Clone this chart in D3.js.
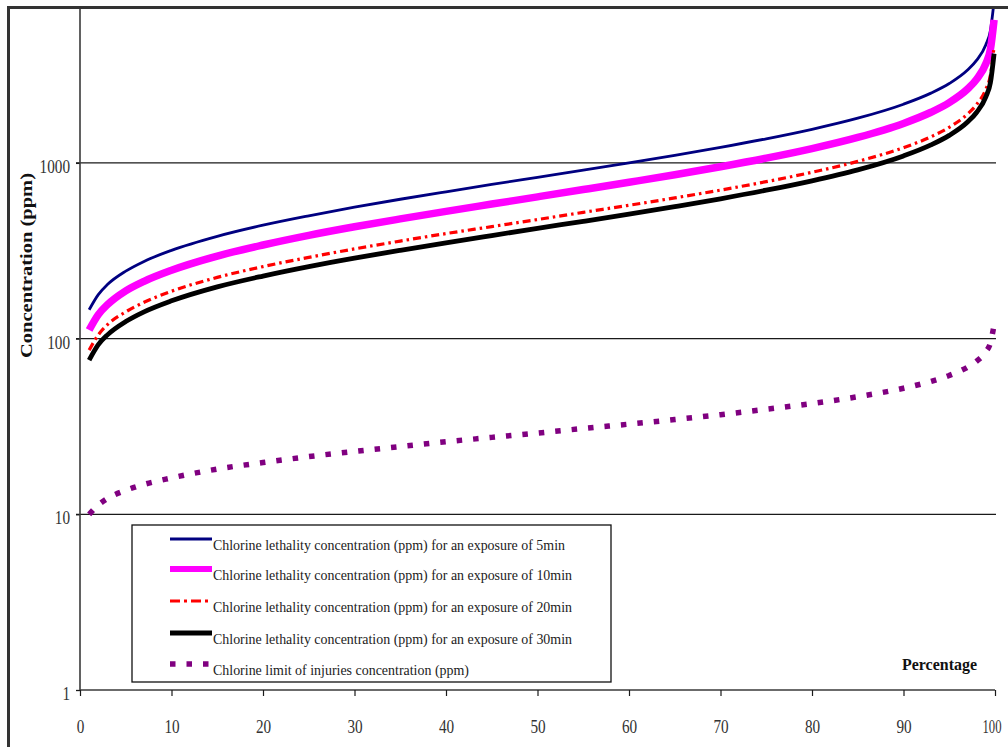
<!DOCTYPE html>
<html>
<head>
<meta charset="utf-8">
<script src="https://cdn.jsdelivr.net/npm/d3@7"></script>
<style>
  html, body { margin: 0; padding: 0; background: #ffffff; }
  svg { display: block; }
</style>
</head>
<body>
<svg id="chart" width="1008" height="747"></svg>
<script>
// ---- Data ----
const percentages = [1, 2, 3, 5, 7, 10, 15, 20, 25, 30, 35, 40, 45, 50, 55, 60, 65, 70, 75, 80, 85, 90, 93, 95, 97, 98, 99, 99.5, 99.9];

const lethal5min  = [146, 178, 203, 242, 275, 318, 382, 442, 500, 560, 621, 685, 754, 828, 909, 1000, 1104, 1225, 1371, 1553, 1796, 2158, 2495, 2830, 3377, 3842, 4709, 5675, 8330];
const lethal10min = [112, 137, 156, 187, 212, 245, 295, 341, 387, 433, 480, 530, 583, 641, 705, 776, 856, 951, 1064, 1206, 1396, 1678, 1942, 2204, 2632, 2996, 3675, 4435, 6521];
const lethal20min = [86, 105, 120, 142, 161, 186, 223, 257, 290, 324, 359, 396, 434, 476, 523, 574, 632, 700, 782, 884, 1020, 1221, 1408, 1595, 1897, 2154, 2630, 3160, 4610];
const lethal30min = [75.5, 92.4, 105, 125, 142, 164, 197, 227, 257, 287, 318, 351, 386, 424, 465, 511, 564, 625, 699, 791, 913, 1096, 1266, 1435, 1709, 1943, 2377, 2861, 4188];
const injuryLimit = [10.0, 11.3, 12.3, 13.7, 14.8, 16.1, 18.1, 19.7, 21.3, 22.8, 24.3, 25.9, 27.4, 29.0, 30.8, 32.6, 34.6, 36.9, 39.6, 42.7, 46.7, 52.2, 57.1, 61.7, 68.8, 74.4, 84.3, 94.5, 119.7];

const seriesNames = [
  "Chlorine lethality concentration (ppm) for an exposure of 5min",
  "Chlorine lethality concentration (ppm) for an exposure of 10min",
  "Chlorine lethality concentration (ppm) for an exposure of 20min",
  "Chlorine lethality concentration (ppm) for an exposure of 30min",
  "Chlorine limit of injuries concentration (ppm)"
];
const xTicks = [0, 10, 20, 30, 40, 50, 60, 70, 80, 90, 100];
const yTicks = [1, 10, 100, 1000];
const xTitle = "Percentage";
const yTitle = "Concentration (ppm)";

// ---- Styles ----
const styles = [
  { color: "#000080", width: 2.8, dash: null },
  { color: "#ff00ff", width: 7.5, dash: null },
  { color: "#ff0000", width: 3.2, dash: "8,4,2.5,4" },
  { color: "#000000", width: 4.8, dash: null },
  { color: "#800080", width: 5.5, dash: "5.5,11" }
];
const seriesValues = [lethal5min, lethal10min, lethal20min, lethal30min, injuryLimit];

const svg = d3.select("#chart");
const serif = "'Liberation Serif', 'Times New Roman', serif";

const plotLeft = 80, plotRight = 995, plotBottom = 690, plotTop = 9;
const decade = 175.7;

const x = d3.scaleLinear().domain([0, 100]).range([plotLeft, plotRight]);
const y = d3.scaleLog().domain([1, 10000]).range([plotBottom, plotBottom - 4 * decade]);

// clip
svg.append("defs").append("clipPath").attr("id", "plotClip")
  .append("rect").attr("x", plotLeft).attr("y", plotTop)
  .attr("width", plotRight - plotLeft + 6).attr("height", plotBottom - plotTop);

// gridlines
svg.append("g").selectAll("line").data(yTicks.filter(d => d > 1)).join("line")
  .attr("x1", plotLeft - 4).attr("x2", plotRight + 1)
  .attr("y1", d => y(d)).attr("y2", d => y(d))
  .attr("stroke", "#1a1a1a").attr("stroke-width", 1.3);

// y axis
const yAxis = svg.append("g").attr("transform", `translate(${plotLeft},0)`)
  .call(d3.axisLeft(y).tickValues(yTicks).tickSize(4).tickFormat(d3.format("d")));
yAxis.select(".domain").remove();
yAxis.append("line").attr("x1", 0).attr("x2", 0).attr("y1", plotTop).attr("y2", plotBottom)
  .attr("stroke", "#3a3a3a").attr("stroke-width", 1.6);
yAxis.selectAll(".tick line").attr("stroke", "#1a1a1a").attr("stroke-width", 1.3);
yAxis.selectAll(".tick text")
  .attr("x", -10).attr("dy", null).attr("y", 9.5)
  .attr("font-family", serif).attr("font-size", 19).attr("fill", "#333")
  .attr("textLength", d => String(d).length * 7.6)
  .attr("lengthAdjust", "spacingAndGlyphs");

// x axis
const xAxis = svg.append("g").attr("transform", `translate(0,${plotBottom})`)
  .call(d3.axisBottom(x).tickValues(xTicks).tickSize(6).tickFormat(d3.format("d")));
xAxis.select(".domain").attr("stroke", "#3a3a3a").attr("stroke-width", 1.6)
  .attr("d", `M${plotLeft},0H${plotRight}`);
xAxis.selectAll(".tick line").attr("stroke", "#1a1a1a").attr("stroke-width", 1.2);
xAxis.selectAll(".tick text")
  .attr("y", 43).attr("dy", null)
  .attr("font-family", serif).attr("font-size", 19).attr("fill", "#333")
  .attr("textLength", d => d === 100 ? 19 : String(d).length * 7.6)
  .attr("lengthAdjust", "spacingAndGlyphs")
  .attr("text-anchor", d => d === 100 ? "end" : "middle")
  .attr("x", d => d === 100 ? 6 : 0);

// series lines
const plot = svg.append("g").attr("clip-path", "url(#plotClip)");
seriesValues.forEach((vals, i) => {
  const pts = percentages.map((p, j) => [p, vals[j]]);
  const line = d3.line().x(d => x(d[0])).y(d => y(d[1])).curve(d3.curveMonotoneX);
  plot.append("path").datum(pts)
    .attr("d", line)
    .attr("fill", "none")
    .attr("stroke", styles[i].color)
    .attr("stroke-width", styles[i].width)
    .attr("stroke-dasharray", styles[i].dash)
    .attr("stroke-linejoin", "round");
});

// legend
const legend = svg.append("g");
legend.append("rect").attr("x", 132).attr("y", 525).attr("width", 479).attr("height", 157)
  .attr("fill", "#fff").attr("stroke", "#111").attr("stroke-width", 1.3);
const legendY = [539, 569, 601, 633, 664];
const legendLens = [352, 359, 359, 359, 256];
seriesNames.forEach((name, i) => {
  legend.append("line")
    .attr("x1", 170).attr("x2", 212)
    .attr("y1", legendY[i]).attr("y2", legendY[i])
    .attr("stroke", styles[i].color)
    .attr("stroke-width", Math.min(styles[i].width, 6))
    .attr("stroke-dasharray", i === 2 ? "10,4,3,4" : styles[i].dash);
  legend.append("text")
    .attr("x", 213).attr("y", legendY[i] + 10.5)
    .attr("font-family", serif).attr("font-size", 14.5).attr("fill", "#222")
    .attr("textLength", legendLens[i]).attr("lengthAdjust", "spacingAndGlyphs")
    .text(name);
});

// axis titles
svg.append("text")
  .attr("x", 902).attr("y", 670)
  .attr("font-family", serif).attr("font-size", 17.5).attr("font-weight", "bold").attr("fill", "#111")
  .attr("textLength", 75).attr("lengthAdjust", "spacingAndGlyphs")
  .text(xTitle);

svg.append("text")
  .attr("transform", "translate(32,358) rotate(-90)")
  .attr("x", 0).attr("y", 0)
  .attr("font-family", serif).attr("font-size", 17.5).attr("font-weight", "bold").attr("fill", "#111")
  .attr("textLength", 185).attr("lengthAdjust", "spacingAndGlyphs")
  .text(yTitle);

// outer frame
svg.append("rect").attr("x", 8.5).attr("y", 7.5).attr("width", 1200).attr("height", 1000)
  .attr("fill", "none").attr("stroke", "#333").attr("stroke-width", 3);
</script>
</body>
</html>
